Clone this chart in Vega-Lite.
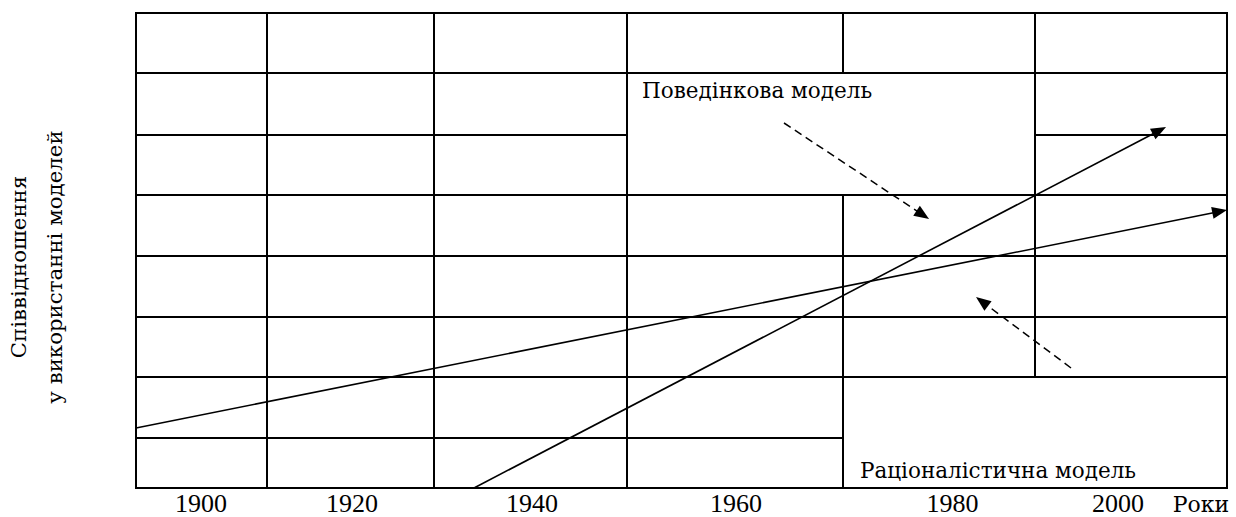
{
  "$schema": "https://vega.github.io/schema/vega-lite/v6.json",
  "width": 1091,
  "height": 475,
  "autosize": "none",
  "padding": {"left": 136, "top": 13, "right": 9, "bottom": 29},
  "background": "white",
  "config": {"view": {"stroke": null}, "font": "Liberation Serif, DejaVu Serif, serif"},
  "datasets": {
    "grid": [
      {"x": 0, "y": 475, "x2": 1091, "y2": 475},
      {"x": 0, "y": 415, "x2": 1091, "y2": 415},
      {"x": 0, "y": 353, "x2": 491, "y2": 353},
      {"x": 899, "y": 353, "x2": 1091, "y2": 353},
      {"x": 0, "y": 293, "x2": 1091, "y2": 293},
      {"x": 0, "y": 232, "x2": 1091, "y2": 232},
      {"x": 0, "y": 171, "x2": 1091, "y2": 171},
      {"x": 0, "y": 111, "x2": 1091, "y2": 111},
      {"x": 0, "y": 50, "x2": 707, "y2": 50},
      {"x": 0, "y": 0, "x2": 1091, "y2": 0},
      {"x": 0, "y": 0, "x2": 0, "y2": 475},
      {"x": 131, "y": 0, "x2": 131, "y2": 475},
      {"x": 298, "y": 0, "x2": 298, "y2": 475},
      {"x": 491, "y": 0, "x2": 491, "y2": 475},
      {"x": 707, "y": 415, "x2": 707, "y2": 475},
      {"x": 707, "y": 0, "x2": 707, "y2": 293},
      {"x": 899, "y": 111, "x2": 899, "y2": 475},
      {"x": 1091, "y": 0, "x2": 1091, "y2": 475}
    ],
    "trends": [
      {"model": "Поведінкова", "x": 338, "y": 0, "x2": 1023.4, "y2": 357.5},
      {"model": "Раціоналістична", "x": 0, "y": 60, "x2": 1083.7, "y2": 276.5}
    ],
    "pointers": [
      {"to": "Поведінкова", "x": 648, "y": 365, "x2": 786.8, "y2": 273.1},
      {"to": "Раціоналістична", "x": 935, "y": 120, "x2": 846, "y2": 186.5}
    ],
    "years": [
      {"x": 65, "label": "1900"},
      {"x": 216, "label": "1920"},
      {"x": 396, "label": "1940"},
      {"x": 600, "label": "1960"},
      {"x": 816.5, "label": "1980"},
      {"x": 982, "label": "2000"},
      {"x": 1065, "label": "Роки"}
    ],
    "notes": [
      {"x": 506, "y": 390, "text": "Поведінкова модель"},
      {"x": 724, "y": 10, "text": "Раціоналістична модель"}
    ],
    "title": [
      {"x": -110, "y": 221, "text": "Співвідношення"},
      {"x": -74, "y": 221, "text": "у використанні моделей"}
    ]
  },
  "layer": [
    {
      "data": {"name": "grid"},
      "mark": {"type": "rule", "color": "black", "strokeWidth": 2, "strokeCap": "square"},
      "encoding": {
        "x": {"field": "x", "type": "quantitative", "scale": {"domain": [0, 1091], "nice": false, "zero": false}, "axis": null},
        "y": {"field": "y", "type": "quantitative", "scale": {"domain": [0, 475], "nice": false, "zero": false}, "axis": null},
        "x2": {"field": "x2"},
        "y2": {"field": "y2"}
      }
    },
    {
      "data": {"name": "trends"},
      "mark": {"type": "rule", "color": "black", "strokeWidth": 1.6},
      "encoding": {
        "x": {"field": "x", "type": "quantitative", "axis": null},
        "y": {"field": "y", "type": "quantitative", "axis": null},
        "x2": {"field": "x2"},
        "y2": {"field": "y2"}
      }
    },
    {
      "data": {"name": "pointers"},
      "mark": {"type": "rule", "color": "black", "strokeWidth": 1.5, "strokeDash": [8, 5]},
      "encoding": {
        "x": {"field": "x", "type": "quantitative", "axis": null},
        "y": {"field": "y", "type": "quantitative", "axis": null},
        "x2": {"field": "x2"},
        "y2": {"field": "y2"}
      }
    },
    {
      "data": {"name": "trends"},
      "transform": [{"filter": "datum.model === 'Поведінкова'"}],
      "mark": {"type": "point", "shape": "M1,0L-1,-0.8L-1,0.8Z", "size": 225, "filled": true, "color": "black", "opacity": 1, "angle": -27.55},
      "encoding": {
        "x": {"field": "x2", "type": "quantitative", "axis": null},
        "y": {"field": "y2", "type": "quantitative", "axis": null}
      }
    },
    {
      "data": {"name": "trends"},
      "transform": [{"filter": "datum.model === 'Раціоналістична'"}],
      "mark": {"type": "point", "shape": "M1,0L-1,-0.8L-1,0.8Z", "size": 225, "filled": true, "color": "black", "opacity": 1, "angle": -11.3},
      "encoding": {
        "x": {"field": "x2", "type": "quantitative", "axis": null},
        "y": {"field": "y2", "type": "quantitative", "axis": null}
      }
    },
    {
      "data": {"name": "pointers"},
      "transform": [{"filter": "datum.to === 'Поведінкова'"}],
      "mark": {"type": "point", "shape": "M1,0L-1,-0.8L-1,0.8Z", "size": 225, "filled": true, "color": "black", "opacity": 1, "angle": 33.5},
      "encoding": {
        "x": {"field": "x2", "type": "quantitative", "axis": null},
        "y": {"field": "y2", "type": "quantitative", "axis": null}
      }
    },
    {
      "data": {"name": "pointers"},
      "transform": [{"filter": "datum.to === 'Раціоналістична'"}],
      "mark": {"type": "point", "shape": "M1,0L-1,-0.8L-1,0.8Z", "size": 225, "filled": true, "color": "black", "opacity": 1, "angle": -143.2},
      "encoding": {
        "x": {"field": "x2", "type": "quantitative", "axis": null},
        "y": {"field": "y2", "type": "quantitative", "axis": null}
      }
    },
    {
      "data": {"name": "years"},
      "transform": [{"filter": "datum.label !== 'Роки'"}],
      "mark": {"type": "text", "font": "Liberation Serif, DejaVu Serif, serif", "fontSize": 26, "align": "center", "baseline": "alphabetic", "color": "black"},
      "encoding": {
        "x": {"field": "x", "type": "quantitative", "axis": null},
        "y": {"datum": -24, "type": "quantitative", "axis": null},
        "text": {"field": "label"}
      }
    },
    {
      "data": {"name": "years"},
      "transform": [{"filter": "datum.label === 'Роки'"}],
      "mark": {"type": "text", "font": "DejaVu Serif", "fontSize": 22, "align": "center", "baseline": "alphabetic", "color": "black"},
      "encoding": {
        "x": {"field": "x", "type": "quantitative", "axis": null},
        "y": {"datum": -24, "type": "quantitative", "axis": null},
        "text": {"field": "label"}
      }
    },
    {
      "data": {"name": "notes"},
      "mark": {"type": "text", "font": "DejaVu Serif", "fontSize": 21.5, "align": "left", "baseline": "alphabetic", "color": "black"},
      "encoding": {
        "x": {"field": "x", "type": "quantitative", "axis": null},
        "y": {"field": "y", "type": "quantitative", "axis": null},
        "text": {"field": "text"}
      }
    },
    {
      "data": {"name": "title"},
      "mark": {"type": "text", "font": "DejaVu Serif", "fontSize": 21.3, "align": "center", "baseline": "alphabetic", "angle": -90, "color": "black"},
      "encoding": {
        "x": {"field": "x", "type": "quantitative", "axis": null},
        "y": {"field": "y", "type": "quantitative", "axis": null},
        "text": {"field": "text"}
      }
    }
  ]
}
